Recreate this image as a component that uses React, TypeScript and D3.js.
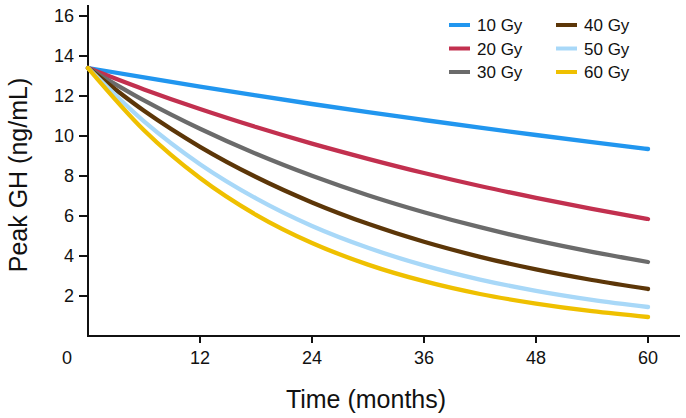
import * as d3 from 'd3';

const WIDTH = 686;
const HEIGHT = 418;

const months = [0, 6, 12, 18, 24, 30, 36, 42, 48, 54, 60];

const doses = ['10 Gy', '20 Gy', '30 Gy', '40 Gy', '50 Gy', '60 Gy'];
const colors = ['#2196ef', '#c2304f', '#6b6b6b', '#5c3608', '#a8d8f8', '#efc000'];

// peak GH (ng/mL) per dose
const gh10 = [13.4, 12.93, 12.47, 12.03, 11.6, 11.19, 10.8, 10.42, 10.05, 9.69, 9.35];
const gh20 = [13.4, 12.33, 11.35, 10.45, 9.62, 8.86, 8.15, 7.5, 6.91, 6.36, 5.85];
const gh30 = [13.4, 11.78, 10.36, 9.11, 8.01, 7.04, 6.19, 5.44, 4.78, 4.21, 3.7];
const gh40 = [13.4, 11.26, 9.46, 7.95, 6.68, 5.61, 4.71, 3.96, 3.33, 2.8, 2.35];
const gh50 = [13.4, 10.73, 8.59, 6.88, 5.5, 4.41, 3.53, 2.82, 2.26, 1.81, 1.45];
const gh60 = [13.4, 10.29, 7.9, 6.06, 4.65, 3.57, 2.74, 2.1, 1.62, 1.24, 0.95];
const series = [gh10, gh20, gh30, gh40, gh50, gh60];

const xTicks = [12, 24, 36, 48, 60];
const yTicks = [2, 4, 6, 8, 10, 12, 14, 16];

const FONT = '"Liberation Sans", Arial, sans-serif';

export default function App() {
  const x = d3.scaleLinear().domain([0, 60]).range([88, 648]);
  const y = d3.scaleLinear().domain([0, 16]).range([336, 16]);

  const line = d3
    .line<number>()
    .x((_, i) => x(months[i]))
    .y((d) => y(d))
    .curve(d3.curveMonotoneX);

  const axisX0 = x(0);
  const axisY0 = y(0);

  return (
    <svg
      width={WIDTH}
      height={HEIGHT}
      style={{ position: 'absolute', left: 0, top: 0, background: '#fff' }}
      fontFamily={FONT}
    >
      {/* axes */}
      <g stroke="#111" strokeWidth={2} fill="none">
        <line x1={axisX0} x2={axisX0} y1={5} y2={axisY0 + 1} />
        <line x1={axisX0 - 1} x2={680} y1={axisY0} y2={axisY0} />
        {yTicks.map((t) => (
          <line key={`yt${t}`} x1={axisX0 - 9} x2={axisX0} y1={y(t)} y2={y(t)} />
        ))}
        {xTicks.map((t) => (
          <line key={`xt${t}`} x1={x(t)} x2={x(t)} y1={axisY0} y2={axisY0 + 7} />
        ))}
      </g>
      <g fontSize={18} fill="#111">
        {yTicks.map((t) => (
          <text key={`yl${t}`} x={axisX0 - 14} y={y(t)} dy="0.35em" textAnchor="end">
            {t}
          </text>
        ))}
        {xTicks.map((t) => (
          <text key={`xl${t}`} x={x(t)} y={364} textAnchor="middle">
            {t}
          </text>
        ))}
        <text x={67} y={364} textAnchor="middle">
          0
        </text>
      </g>
      <text x={366} y={408} fontSize={25} textAnchor="middle" fill="#111">
        Time (months)
      </text>
      <text
        transform={`translate(27,${175}) rotate(-90)`}
        fontSize={25}
        textAnchor="middle"
        fill="#111"
      >
        Peak GH (ng/mL)
      </text>

      {/* curves */}
      <g fill="none" strokeWidth={4.3} strokeLinecap="round" strokeLinejoin="round">
        {series.map((s, i) => (
          <path key={doses[i]} d={line(s) ?? ''} stroke={colors[i]} />
        ))}
      </g>

      {/* legend */}
      <g fontSize={17} fill="#111">
        {doses.map((d, i) => {
          const col = Math.floor(i / 3);
          const row = i % 3;
          const lx = 449 + col * 107;
          const ly = 25 + row * 23.5;
          return (
            <g key={`lg${d}`}>
              <line x1={lx} x2={lx + 21} y1={ly} y2={ly} stroke={colors[i]} strokeWidth={4} />
              <text x={lx + 28} y={ly} dy="0.36em">
                {d}
              </text>
            </g>
          );
        })}
      </g>
    </svg>
  );
}
